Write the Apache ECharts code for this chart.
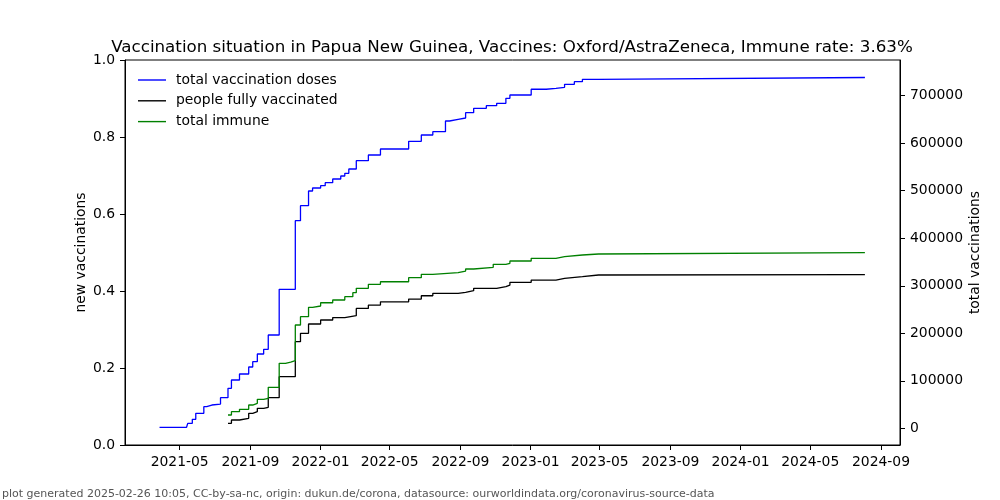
<!DOCTYPE html>
<html><head><meta charset="utf-8">
<script src="https://cdn.jsdelivr.net/npm/echarts@6/dist/echarts.min.js"></script>
<style>html,body{margin:0;padding:0;background:#fff}#c{width:1000px;height:500px}</style>
</head><body><div id="c"></div>
<script>
const titleText = 'Vaccination situation in Papua New Guinea, Vaccines: Oxford/AstraZeneca, Immune rate: 3.63%';
const footerText = 'plot generated 2025-02-26 10:05, CC-by-sa-nc, origin: dukun.de/corona, datasource: ourworldindata.org/coronavirus-source-data';
const seriesNames = ['total vaccination doses', 'people fully vaccinated', 'total immune'];
const leftAxisName = 'new vaccinations';
const rightAxisName = 'total vaccinations';
const xTickLabels = ['2021-05','2021-09','2022-01','2022-05','2022-09','2023-01','2023-05','2023-09','2024-01','2024-05','2024-09'];
const leftTicks = [0, 0.2, 0.4, 0.6, 0.8, 1.0];
const rightTicks = [0, 100000, 200000, 300000, 400000, 500000, 600000, 700000];
const xRange = ['2021-01-26', '2024-10-04'];
const rightRange = [-35150, 775200];

const dosesDates = ['2021-03-27','2021-05-13','2021-05-15','2021-05-23','2021-05-29','2021-06-12','2021-06-17','2021-06-26','2021-07-11','2021-07-24','2021-07-30','2021-08-13','2021-08-29','2021-09-05','2021-09-13','2021-09-24','2021-10-02','2021-10-21','2021-11-18','2021-11-27','2021-12-11','2021-12-18','2022-01-01','2022-01-09','2022-01-22','2022-02-05','2022-02-12','2022-02-19','2022-03-04','2022-03-25','2022-04-15','2022-06-03','2022-06-25','2022-07-15','2022-08-06','2022-08-13','2022-08-28','2022-09-10','2022-09-24','2022-10-16','2022-11-03','2022-11-19','2022-11-26','2023-01-02','2023-01-28','2023-02-14','2023-03-01','2023-03-18','2023-04-01','2023-04-29','2024-08-04'];
const dosesValues = [2100,5500,10500,18900,31600,45500,49000,51100,64400,84200,101700,114300,129000,140200,156400,166300,196400,292600,437000,468500,499500,505800,510600,517000,524700,531000,536700,545800,563300,575200,587900,604000,617300,624300,646800,650400,653100,664300,673500,679000,684000,694600,701500,713600,715600,717700,724000,729600,734600,738400,738400];

const fullyDates = ['2021-07-24','2021-07-30','2021-08-13','2021-08-29','2021-09-05','2021-09-13','2021-09-24','2021-10-02','2021-10-21','2021-11-18','2021-11-27','2021-12-11','2022-01-01','2022-01-22','2022-02-12','2022-03-04','2022-03-25','2022-04-15','2022-06-03','2022-06-25','2022-07-15','2022-08-28','2022-09-10','2022-09-24','2022-11-03','2022-11-19','2022-11-26','2023-01-02','2023-02-14','2023-03-01','2023-04-01','2023-04-29','2024-08-04'];
const fullyValues = [10500,17500,21000,31600,35000,42100,44200,64400,108600,182300,200000,219500,228000,233000,237000,252300,259300,266300,272000,279000,284100,286200,289600,294600,298000,301500,307200,312000,315700,319200,322700,323500,323500];

const immuneDates = ['2021-07-24','2021-07-30','2021-08-13','2021-08-29','2021-09-05','2021-09-13','2021-09-24','2021-10-02','2021-10-21','2021-11-01','2021-11-10','2021-11-18','2021-11-27','2021-12-11','2021-12-18','2022-01-01','2022-01-22','2022-02-12','2022-02-26','2022-03-04','2022-03-25','2022-04-15','2022-06-03','2022-06-25','2022-07-15','2022-08-28','2022-09-10','2022-09-24','2022-10-28','2022-11-19','2022-11-26','2023-01-02','2023-02-14','2023-03-01','2023-04-01','2023-04-29','2024-08-04'];
const immuneValues = [28000,35000,40000,49000,52600,61000,63000,86300,136800,139500,142300,217400,234900,254700,257400,264300,270000,277000,285400,294600,303000,308500,317000,324000,327500,331000,335300,338800,345100,347200,352100,357700,361200,364800,366900,369600,369600];

const FONT = 'DejaVu Sans';
function ts(s) { const p = s.split('-').map(Number); return new Date(p[0], p[1] - 1, p[2] || 1).getTime(); }
function pairs(d, v) { return d.map((x, i) => [ts(x), v[i]]); }
const xTickValues = xTickLabels.map(ts);

const chart = echarts.init(document.getElementById('c'), null, { renderer: 'canvas' });
chart.setOption({
  animation: false,
  backgroundColor: '#fff',
  textStyle: { fontFamily: FONT, color: '#000' },
  title: [
    { text: titleText, left: 512, top: 39, textAlign: 'center', padding: 0,
      textStyle: { fontFamily: FONT, fontSize: 16.7, fontWeight: 'normal', color: '#000' } },
    { text: footerText, left: 2, top: 489, padding: 0,
      textStyle: { fontFamily: FONT, fontSize: 11, fontWeight: 'normal', color: '#555' } }
  ],
  legend: {
    orient: 'vertical', left: 133, top: 68, itemWidth: 28, itemHeight: 1.4, itemGap: 6.8,
    icon: 'rect',
    textStyle: { fontFamily: FONT, fontSize: 13.9, color: '#000', padding: [0, 0, 0, 5] },
    data: seriesNames
  },
  grid: { left: 125, right: 100, top: 60, bottom: 55, show: true, borderColor: '#000', borderWidth: 1, containLabel: false },
  xAxis: {
    type: 'value', min: ts(xRange[0]), max: ts(xRange[1]),
    axisLine: { show: true, lineStyle: { color: '#000', width: 1 } },
    axisTick: { show: true, length: 5, lineStyle: { color: '#000' }, customValues: xTickValues },
    axisLabel: { show: true, margin: 10, fontFamily: FONT, fontSize: 13.9, color: '#000', customValues: xTickValues,
      formatter: function (v) { const d = new Date(v); return d.getFullYear() + '-' + String(d.getMonth() + 1).padStart(2, '0'); } },
    splitLine: { show: false }, minorTick: { show: false }
  },
  yAxis: [
    { type: 'value', position: 'left', min: 0, max: 1, interval: 0.2,
      name: leftAxisName, nameLocation: 'middle', nameGap: 37, nameRotate: 90, nameMoveOverlap: false,
      nameTextStyle: { fontFamily: FONT, fontSize: 13.9, color: '#000' },
      axisLine: { show: true, lineStyle: { color: '#000' } },
      axisTick: { show: true, length: 5, lineStyle: { color: '#000' } },
      axisLabel: { margin: 10, fontFamily: FONT, fontSize: 13.9, color: '#000', formatter: v => v.toFixed(1) },
      splitLine: { show: false } },
    { type: 'value', position: 'right', min: rightRange[0], max: rightRange[1],
      name: rightAxisName, nameLocation: 'middle', nameGap: 68, nameRotate: 90, nameMoveOverlap: false,
      nameTextStyle: { fontFamily: FONT, fontSize: 13.9, color: '#000' },
      axisLine: { show: true, lineStyle: { color: '#000' } },
      axisTick: { show: true, length: 5, lineStyle: { color: '#000' }, customValues: rightTicks },
      axisLabel: { margin: 10, fontFamily: FONT, fontSize: 13.9, color: '#000', customValues: rightTicks, formatter: v => String(Math.round(v)) },
      splitLine: { show: false } }
  ],
  series: [
    { name: seriesNames[0], type: 'line', yAxisIndex: 1, step: 'end', symbol: 'none', data: pairs(dosesDates, dosesValues),
      lineStyle: { color: '#0000ff', width: 1.3 }, itemStyle: { color: '#0000ff' } },
    { name: seriesNames[1], type: 'line', yAxisIndex: 1, step: 'end', symbol: 'none', data: pairs(fullyDates, fullyValues),
      lineStyle: { color: '#000000', width: 1.3 }, itemStyle: { color: '#000000' } },
    { name: seriesNames[2], type: 'line', yAxisIndex: 1, step: 'end', symbol: 'none', data: pairs(immuneDates, immuneValues),
      lineStyle: { color: '#008000', width: 1.3 }, itemStyle: { color: '#008000' } }
  ]
});
</script></body></html>
